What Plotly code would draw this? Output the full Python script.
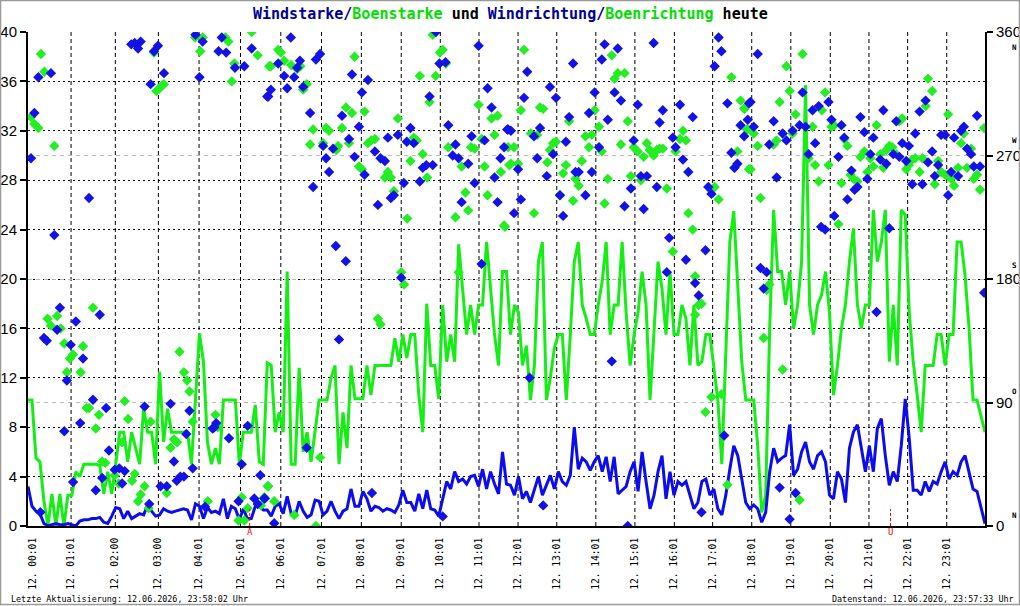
import plotly.graph_objects as go

# ---------------- data ----------------
# x axis = running sample index (slot); hour labels sit at these slots
hour_slots = [1.2, 10.8, 21.9, 32.7, 42.9, 53.3, 63.4, 73.6, 83.6, 93.6, 103.4, 113.1,
              122.9, 132.6, 142.4, 152.2, 162.1, 171.7, 181.5, 191.3, 201.2, 210.9, 220.6, 230.4]
hour_labels = ["12. 00:01", "12. 01:01", "12. 02:00", "12. 03:00", "12. 04:01", "12. 05:01",
               "12. 06:01", "12. 07:01", "12. 08:01", "12. 09:01", "12. 10:01", "12. 11:01",
               "12. 12:01", "12. 13:01", "12. 14:01", "12. 15:01", "12. 16:01", "12. 17:01",
               "12. 18:01", "12. 19:01", "12. 20:01", "12. 21:01", "12. 22:01", "12. 23:01"]

# Boenstarke (gust), one value per slot 0..240
gust = [10.2, 10.2, 5.5, 5.2, 2.0, 0, 2.6, 0, 2.6, 0, 2.5, 2.5, 4.4, 4.0, 5.0, 5.0, 5.0, 5.0, 4.9, 2.6,
        4.4, 2.6, 5.0, 7.6, 7.6, 5.2, 7.6, 6.3, 5.0, 9.5, 7.6, 7.6, 5.0, 12.5, 6.8, 9.5, 7.6, 7.6, 7.6, 7.6,
        7.6, 5.0, 10.6, 15.6, 13.3, 6.8, 5.0, 6.3, 5.0, 10.2, 10.2, 10.2, 10.2, 5.0, 7.6, 7.6, 7.6, 9.8, 5.2, 5.0,
        13.2, 13.0, 7.6, 9.2, 7.6, 20.6, 5.0, 5.0, 12.8, 6.0, 7.6, 5.2, 7.6, 10.2, 10.2, 10.2, 12.0, 13.0, 5.0, 9.2,
        6.3, 13.0, 10.3, 10.3, 10.3, 13.0, 10.6, 13.0, 13.0, 13.0, 13.0, 13.0, 15.2, 13.3, 15.5, 13.6, 15.5, 15.5, 10.6, 7.6,
        18.0, 13.0, 13.0, 10.3, 17.9, 13.3, 15.5, 13.3, 22.8, 19.2, 15.5, 17.9, 15.5, 17.9, 17.9, 23.0, 19.2, 15.5, 13.0, 20.6,
        20.6, 15.5, 17.9, 17.3, 13.0, 14.6, 10.2, 13.0, 21.4, 23.0, 10.2, 12.0, 14.4, 15.5, 15.5, 10.2, 15.5, 21.4, 23.0, 17.9,
        16.8, 15.5, 15.5, 17.9, 19.8, 23.0, 15.5, 17.9, 17.9, 23.0, 17.3, 13.0, 15.5, 17.3, 20.6, 17.9, 10.2, 15.5, 21.4, 19.2,
        15.5, 20.6, 15.5, 15.5, 17.9, 16.8, 13.0, 17.9, 13.0, 13.3, 15.5, 15.5, 13.0, 10.2, 5.0, 14.6, 23.0, 25.5, 19.2, 13.3,
        10.2, 10.2, 10.2, 6.5, 1.1, 2.5, 16.0, 25.6, 20.6, 20.6, 17.9, 20.6, 16.0, 17.9, 21.4, 35.7, 17.9, 15.5, 17.9, 18.7,
        20.6, 17.3, 10.6, 13.0, 16.0, 17.9, 21.4, 24.1, 17.9, 16.0, 17.9, 17.9, 25.6, 21.4, 23.0, 25.6, 13.3, 17.9, 13.0, 25.6,
        25.2, 17.3, 13.3, 10.6, 7.6, 13.0, 13.0, 13.0, 15.5, 15.5, 13.0, 15.5, 15.5, 23.0, 23.0, 20.3, 16.0, 10.2, 10.2, 9.0,
        7.6]

# Windstarke (mean wind), one value per slot 0..240
wind = [3.2, 1.6, 1.2, 1.0, 0.2, 0, 0.1, 0.2, 0.1, 0.1, 0.2, 0.1, 0, 0.4, 0.5, 0.5, 0.6, 0.6, 0.7, 0.3,
        0.2, 0.8, 1.5, 1.4, 0.6, 1.2, 0.6, 0.8, 1.0, 0.9, 1.7, 1.2, 0.8, 0.9, 1.4, 1.2, 1.1, 1.2, 1.3, 1.4,
        1.3, 0.5, 1.8, 1.6, 0.6, 1.5, 1.1, 1.2, 1.0, 2.2, 0.6, 1.6, 1.4, 0.5, 1.4, 0.6, 0.6, 1.6, 1.6, 1.3,
        1.3, 0.8, 1.6, 1.8, 1.0, 2.4, 1.0, 0.8, 2.0, 1.2, 0.7, 0.9, 2.1, 2.0, 0.9, 1.2, 2.0, 1.2, 0.6, 1.2,
        1.4, 3.0, 1.6, 1.6, 2.8, 2.2, 1.2, 1.6, 1.5, 1.2, 1.4, 1.3, 1.1, 1.7, 2.9, 1.9, 1.9, 1.2, 2.6, 1.4,
        2.9, 1.4, 1.3, 0.8, 2.2, 3.6, 3.0, 4.4, 3.6, 3.8, 3.4, 4.0, 4.1, 3.2, 4.6, 3.0, 4.4, 3.4, 2.6, 6.0,
        3.4, 3.3, 2.5, 4.0, 2.2, 2.8, 1.9, 3.0, 4.0, 2.5, 3.3, 4.1, 3.0, 4.4, 3.6, 3.3, 4.1, 8.0, 4.6, 5.5,
        5.2, 4.5, 5.2, 5.7, 4.4, 5.6, 3.6, 5.6, 2.6, 2.9, 3.2, 4.4, 5.2, 2.8, 6.0, 3.6, 1.4, 2.5, 4.4, 5.7,
        2.2, 4.4, 2.5, 3.6, 3.3, 3.6, 2.5, 1.4, 1.9, 3.6, 3.8, 2.5, 3.0, 1.4, 0.9, 2.5, 4.6, 6.5, 5.7, 3.8,
        1.9, 1.4, 1.7, 1.4, 0.3, 1.1, 4.4, 6.3, 5.2, 5.5, 5.7, 8.2, 4.1, 4.6, 6.0, 6.8, 5.2, 4.6, 5.7, 6.0,
        5.2, 2.5, 2.2, 4.4, 3.8, 1.9, 6.3, 7.6, 8.2, 6.3, 4.4, 6.5, 4.4, 7.9, 8.7, 5.7, 3.3, 4.4, 3.6, 6.5,
        10.3, 7.1, 2.9, 2.9, 2.5, 3.6, 2.8, 3.6, 3.4, 4.4, 5.2, 3.8, 4.4, 4.1, 5.2, 5.7, 4.4, 3.0, 2.8, 1.4,
        0.2]

# Windrichtung (deg) at sample slots
wind_dir_slot = [0.75, 1.6, 2.6, 3.1, 4, 4.7, 5.75, 6.6, 7.3, 8, 9.1, 9.75, 10.7, 11.3, 12, 13.1, 13.8, 15.3, 16.3, 17,
                 18, 18.6, 19.6, 20.3, 21.75, 22.9, 23.6, 24.25, 25.9, 26.75, 27.6, 28.25, 29.25, 30.4, 30.75, 31.6, 32.6, 33.25, 34.1, 34.8,
                 35.75, 36.6, 37.3, 38.2, 39.1, 39.7, 40.5, 41.3, 42, 43, 43.8, 44.4, 46.3, 46.75, 47.2, 47.8, 48.6, 49.7, 50.4, 51.9,
                 52.8, 53.6, 54.25, 55.1, 56.1, 56.75, 57.6, 58.25, 59.25, 60,
                 59.4, 60.25, 60.9, 61.75, 62.75, 64.25, 65, 65.9, 66.75, 67.5, 68.2, 69, 69.9, 70.75, 71.5, 72.2, 73.25, 74, 74.75, 75.5,
                 76.5, 77.2, 78, 78.75, 79.7, 80.5, 81.25, 81.9, 83, 83.75, 84.4, 85.25, 86.25, 87, 87.75, 88.4, 89.5, 90.25, 91, 91.75,
                 92.75, 93.6, 94.25, 95, 95.9, 96.75, 98.25, 99, 99.9, 100.7, 101.5, 102.3, 103.2, 104, 104.7, 105.4, 106.5, 107.2, 108, 108.75,
                 110.4, 111.25, 112, 113, 113.75, 114.5, 115.25, 116.25, 117, 117.75, 118.5, 119.4, 120.2,
                 120.4, 121.1, 121.9, 122.9, 123.6, 124.4, 125.2, 125.8, 126.9, 127.7, 128.4, 129.2, 130.1, 130.9, 131.7, 132.4, 133.4, 134.2, 134.9, 135.7,
                 136.7, 137.3, 138.1, 139.8, 140.7, 141.4, 142.1, 143.2, 143.9, 144.6, 145.4, 146.4, 147.1, 147.9, 148.7, 149.6, 150.4, 151.2, 151.9, 152.9,
                 153.7, 154.4, 155.2, 156.9, 157.7, 158.4, 159.2, 160.2, 160.8, 161.7, 162.4, 163.5, 164.25, 165, 165.6, 166.7, 167.3, 168.2, 168.9, 169.9,
                 170.6, 171.4, 172.2, 173.2, 173.9, 174.6, 175.4, 176.4, 177.2, 177.9, 178.7, 179.6, 180.8,
                 180.5, 181.2, 182, 183, 183.7, 184.5, 185.25, 185.9, 187, 187.75, 188.5, 189.25, 190.2, 191, 191.75, 192.5, 193.5, 194.25, 195, 195.75,
                 196.75, 197.4, 198.3, 198.9, 199.9, 200.75, 201.5, 202.2, 203.25, 204, 204.7, 205.5, 206.5, 207.3, 208, 208.75, 209.75, 210.5, 211.25, 212,
                 212.8, 213.75, 214.5, 215.25, 216, 217, 217.75, 218.5, 219.25, 220.25, 220.9, 221.75, 222.5, 223.6, 224.3, 225.1, 225.7, 226.75, 227.4, 228.25,
                 229, 230, 230.75, 231.5, 232.25, 233.25, 234, 234.7, 235.5, 236.5, 237.2, 238, 238.75, 239.8]
wind_dir = [268, 301, 327, 10, 137, 135, 330, 212, 143, 159, 69, 106, 132, 32, 149, 75, 122, 239, 92, 26,
            154, 35, 86, 55, 41, 42, 31, 40, 351, 352, 348, 353, 87, 16, 322, 346, 350, 29, 330, 29,
            89, 47, 33, 36, 36, 67, 84, 42, 358, 327, 353, 14, 71, 72, 75, 346, 356, 345, 64, 334,
            18, 45, 335, 73, 348, 20, 16, 37, 20, 313,
            20, 313, 318, 2, 337, 328, 319, 356, 327, 334, 339, 320, 57, 301, 247, 340, 344, 277, 268, 258,
            275, 204, 136, 299, 193, 282, 329, 269, 291, 316, 256, 325, 24, 273, 234, 268, 266, 283, 239, 241,
            285, 181, 250, 280, 290, 279, 251, 261, 263, 313, 263, 360, 337, 7, 338, 292, 270, 278, 268, 236,
            264, 284, 250, 350, 191, 281, 319, 305, 254, 236, 268, 276, 289,
            289, 288, 228, 260, 238, 312, 331, 108, 284, 268, 290, 15, 255, 320, 271, 312, 241, 226, 280, 298,
            337, 258, 258, 241, 301, 258, 316, 276, 340, 351, 296, 120, 316, 348, 310, 233, 0, 246, 281, 307,
            255, 231, 255, 352, 247, 294, 303, 185, 210, 283, 276, 307, 267, 194, 258, 298, 177, 168, 10, 201,
            247, 242, 335, 356, 346, 66, 308, 272, 261, 264, 292, 284, 308,
            296, 309, 291, 344, 188, 173, 185, 278, 295, 254, 28, 286, 281, 5, 288, 24, 292, 316, 291, 271,
            303, 279, 306, 218, 216, 309, 296, 226, 269, 292, 283, 238, 259, 245, 247, 298, 287, 253, 271, 283,
            156, 267, 303, 264, 217, 271, 295, 269, 279, 266, 277, 249, 286, 302, 249, 310, 265, 273, 255, 263,
            285, 285, 241, 258, 283, 255, 288, 291, 275, 271, 262, 299, 262, 170]

# Boenrichtung (deg) at sample slots
gust_dir_slot = [0.75, 1.6, 2.6, 3.25, 4.1, 4.9, 5.75, 6.6, 7.3, 8.2, 9.1, 9.75, 10.5, 11.3, 13.2, 13.8, 14.7, 15.3, 16.3, 17,
                 17.8, 18.6, 19.4, 21.75, 22.75, 23.6, 24.25, 25.1, 26.1, 26.75, 27.6, 28.25, 29.25, 30.25, 30.75, 31.6, 32.2, 33, 33.6, 34.1,
                 34.8, 35.75, 36.6, 37.4, 38, 39.1, 39.9, 40.5, 41.3, 41.9, 43.2, 43.8, 45.1, 47, 47.6, 49.5, 50.25, 51.1, 51.75, 52.8,
                 53.6, 54.25, 55.1, 56.1, 57.6, 58.4, 59.25, 60.1, 60.5,
                 60.25, 60.9, 61.75, 62.75, 63.4, 64.25, 66, 66.75, 67.5, 68.3, 69, 69.9, 70.75, 71.5, 72.2, 73.25, 74, 74.75, 75.5, 77.3,
                 77.75, 78.75, 79.75, 80.5, 81.25, 81.9, 83, 83.75, 84.4, 85.25, 86.1, 87, 87.75, 88.4, 89.5, 90.25, 91, 91.75, 92.75, 93.6,
                 94.3, 95.1, 95.9, 96.75, 97.5, 98.25, 99, 100.1, 100.7, 101.5, 102.25, 103.3, 104, 104.8, 105.4, 107.2, 108, 108.75, 109.7, 110.4,
                 111.1, 112, 113, 113.75, 114.5, 115.25, 116.25, 117, 117.75, 118.6, 119.4, 120.7,
                 119.6, 120.4, 121.1, 121.9, 122.9, 123.6, 124.4, 126.1, 126.9, 127.7, 128.4, 129.2, 130.25, 130.9, 131.7, 132.4, 133.4, 134.2, 134.9, 135.7,
                 136.7, 137.3, 138.1, 138.9, 139.8, 140.7, 141.4, 142.1, 143.2, 143.9, 144.6, 145.4, 146.4, 147.1, 147.9, 148.7, 149.6, 150.4, 151.2, 151.9,
                 152.9, 153.7, 154.4, 155.2, 155.9, 156.9, 157.7, 158.4, 159.2, 160.2, 161.7, 162.4, 163.5, 164.25, 165, 165.6, 166.7, 167.3, 167.3, 168.2,
                 168.9, 169.9, 171.4, 172.2, 173.2, 173.9, 175.4, 176.4, 177.1, 177.9, 178.7, 179.6, 180.3, 180.8,
                 179.7, 180.5, 181.2, 182, 183, 183.7, 184.5, 185.25, 185.9, 187, 187.75, 188.5, 189.25, 190.2, 191, 191.75, 192.5, 193.5, 194.25, 195.75,
                 196.75, 197.4, 198.3, 199.1, 199.9, 200.75, 201.5, 202.2, 203.25, 204, 204.7, 205.5, 206.3, 207, 208, 208.75, 209.75, 210.5, 211.25, 212,
                 212.8, 213.75, 214.5, 215.25, 216, 216.75, 217.75, 218.5, 219.25, 220.25, 220.9, 221.75, 222.5, 223.6, 224.3, 225.1, 225.7, 226.75, 227.4, 228.25,
                 229, 230, 230.75, 231.5, 232.25, 233.25, 234, 234.7, 235.5, 236.5, 237.2, 238, 238.75, 239.8]
gust_dir = [298, 293, 290, 344, 331, 151, 146, 277, 153, 144, 133, 112, 122, 125, 112, 131, 86, 86, 159, 71,
            81, 47, 46, 37, 31, 61, 91, 78, 33, 38, 18, 23, 29, 13, 76, 345, 317, 319, 321, 322,
            24, 57, 63, 61, 127, 112, 106, 98, 76, 356, 346, 356, 18, 81, 72, 356, 353, 324, 337, 4,
            21, 4, 13, 360, 343, 15, 21, 29, 335,
            29, 335, 18, 347, 345, 339, 336, 8, 333, 335, 318, 322, 278, 289, 0, 50, 279, 290, 288, 274,
            277, 290, 305, 279, 301, 342, 262, 260, 302, 279, 281, 282, 151, 147, 254, 258, 254, 244, 297, 185,
            176, 224, 266, 283, 281, 328, 271, 254, 309, 358, 328, 345, 347, 337, 276, 225, 185, 262, 243, 230,
            276, 275, 307, 282, 262, 241, 297, 285, 299, 258, 219, 263,
            218, 276, 264, 276, 264, 303, 347, 286, 228, 285, 305, 304, 265, 274, 279, 280, 241, 257, 263, 295,
            237, 253, 248, 266, 284, 276, 285, 303, 291, 273, 235, 253, 343, 326, 330, 278, 330, 295, 255, 276,
            273, 252, 269, 279, 274, 270, 274, 275, 275, 246, 200, 273, 282, 288, 281, 228, 216, 154, 182, 161,
            162, 83, 94, 247, 238, 96, 30, 327, 261, 273, 310, 304, 289, 260,
            304, 289, 260, 286, 277, 239, 137, 172, 176, 278, 281, 309, 114, 335, 317, 286, 300, 19, 344, 268,
            291, 263, 251, 303, 316, 263, 291, 292, 220, 250, 282, 277, 256, 253, 251, 269, 273, 258, 268, 262,
            292, 271, 261, 274, 277, 276, 271, 295, 297, 260, 263, 267, 268, 258, 268, 306, 326, 317, 249, 266,
            258, 256, 300, 253, 248, 261, 279, 286, 261, 275, 253, 256, 245, 290]

# sunrise (A) / sunset (U) markers, in slots
sun_slots = [55.6, 216.3]
sun_labels = ["A", "U"]

left_ticks = list(range(0, 41, 4))
right_ticks = [0, 90, 180, 270, 360]
compass = ["N", "O", "S", "W", "N"]
compass_pos = [8, 98, 190, 281, 349]

# ---------------- figure ----------------
W, H = 1020, 606
L, R, T, B = 28, 35, 32, 80
PW, PH = W - L - R, H - T - B


def px(x):
    return (x - L) / PW


def py(y):
    return (H - B - y) / PH


BLUE_LINE = "#0c0cee"
GREEN_LINE = "#14ee14"
BLUE_PT = "#1212e8"
GREEN_PT = "#22ee22"
MONO = "DejaVu Sans Mono"

slots = list(range(len(gust)))

fig = go.Figure()
fig.add_trace(go.Scatter(x=slots, y=gust, mode="lines", line=dict(color=GREEN_LINE, width=3),
                         name="Boenstarke", yaxis="y"))
fig.add_trace(go.Scatter(x=slots, y=wind, mode="lines", line=dict(color=BLUE_LINE, width=3),
                         name="Windstarke", yaxis="y"))
fig.add_trace(go.Scatter(x=gust_dir_slot, y=gust_dir, mode="markers",
                         marker=dict(symbol="diamond", size=8, color=GREEN_PT, line=dict(width=0)),
                         name="Boenrichtung", yaxis="y2"))
fig.add_trace(go.Scatter(x=wind_dir_slot, y=wind_dir, mode="markers",
                         marker=dict(symbol="diamond", size=8, color=BLUE_PT, line=dict(width=0)),
                         name="Windrichtung", yaxis="y2"))

title = ('<span style="color:#000099">Windstarke/</span>'
         '<span style="color:#00e000">Boenstarke</span>'
         '<span style="color:#000000"> und </span>'
         '<span style="color:#000099">Windrichtung/</span>'
         '<span style="color:#00e000">Boenrichtung</span>'
         '<span style="color:#000000"> heute</span>')

annotations = [
    dict(text="<b>" + title + "</b>", x=px(510), y=py(14), xref="paper", yref="paper",
         xanchor="center", yanchor="middle", showarrow=False, font=dict(family=MONO, size=15)),
    dict(text="Letzte Aktualisierung: 12.06.2026, 23:58:02 Uhr", x=px(9), y=py(599),
         xref="paper", yref="paper", xanchor="left", yanchor="middle", showarrow=False,
         font=dict(family=MONO, size=8.4, color="#000000")),
    dict(text="Datenstand: 12.06.2026, 23:57:33 Uhr", x=px(1016), y=py(599),
         xref="paper", yref="paper", xanchor="right", yanchor="middle", showarrow=False,
         font=dict(family=MONO, size=8.4, color="#000000")),
]
for lab, pos in zip(compass, compass_pos):
    annotations.append(dict(text="<b>" + lab + "</b>", x=px(1014), y=pos, xref="paper", yref="y2",
                            xanchor="center", yanchor="middle", showarrow=False,
                            font=dict(family=MONO, size=7.5, color="#000000")))
shapes = []
# hour grid lines (the one right at the left axis is not drawn in the original)
for s in hour_slots[1:]:
    shapes.append(dict(type="line", xref="x", yref="paper", x0=s, x1=s, y0=0, y1=1, layer="below",
                       line=dict(color="#000000", width=1, dash="4px,3px")))
for lab, s in zip(sun_labels, sun_slots):
    annotations.append(dict(text=lab, x=s, y=py(532), xref="x", yref="paper", xanchor="center",
                            yanchor="middle", showarrow=False,
                            font=dict(family=MONO, size=9, color="#ff0000")))
    shapes.append(dict(type="line", xref="x", yref="paper", x0=s, x1=s, y0=py(526), y1=py(509),
                       line=dict(color="#ff0000", width=1, dash="3px,2px")))

# outer grey frame
shapes.append(dict(type="rect", xref="paper", yref="paper", x0=px(0.5), x1=px(W - 0.5),
                   y0=py(H - 1.5), y1=py(0.5), line=dict(color="#9a9a9a", width=1.5),
                   fillcolor="rgba(0,0,0,0)", layer="above"))

fig.update_layout(
    width=W, height=H, autosize=False,
    margin=dict(l=L, r=R, t=T, b=B, pad=0, autoexpand=False),
    paper_bgcolor="white", plot_bgcolor="white",
    showlegend=False,
    annotations=annotations, shapes=shapes,
    xaxis=dict(range=[0, len(gust) - 1], tickmode="array", tickvals=hour_slots, ticktext=hour_labels,
               tickangle=-90, tickfont=dict(family=MONO, size=9.6, color="#000000"),
               showgrid=False,
               showline=True, linecolor="#000000", linewidth=2, ticks="", zeroline=False,
               ticklabelstandoff=6, automargin=False),
    yaxis=dict(range=[0, 40], tickmode="array", tickvals=left_ticks,
               tickfont=dict(family="Liberation Sans", size=15, color="#000000"),
               showgrid=True, gridcolor="#000000", gridwidth=1, griddash="2px,3px",
               showline=True, linecolor="#000000", linewidth=2, ticks="outside", ticklen=6,
               tickwidth=2, tickcolor="#000000", zeroline=False, automargin=False),
    yaxis2=dict(range=[0, 360], overlaying="y", side="right", tickmode="array", tickvals=right_ticks,
                tickfont=dict(family="Liberation Sans", size=15, color="#000000"),
                showgrid=True, gridcolor="#bbbbbb", gridwidth=1, griddash="4px,4px",
                showline=True, linecolor="#000000", linewidth=2, ticks="outside", ticklen=6,
                tickwidth=2, tickcolor="#000000", zeroline=False, automargin=False),
)

fig.write_html("out.html")
